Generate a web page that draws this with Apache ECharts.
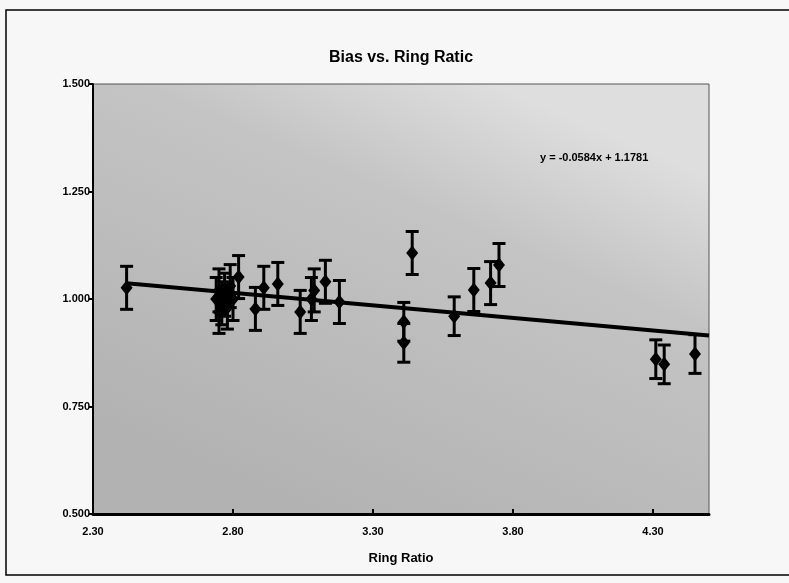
<!DOCTYPE html>
<html>
<head>
<meta charset="utf-8">
<script src="https://cdn.jsdelivr.net/npm/echarts@6/dist/echarts.min.js"></script>
<style>
  html, body { margin: 0; padding: 0; background: #f7f7f7; }
  #main { width: 789px; height: 583px; }
</style>
</head>
<body>
<div id="main"></div>
<script>
// ring ratio (x), bias (y), error half-width
var ringRatio = [2.42, 2.74, 2.75, 2.75, 2.76, 2.77, 2.78, 2.79, 2.80, 2.82, 2.88, 2.91, 2.96,
                 3.04, 3.08, 3.09, 3.13, 3.18, 3.41, 3.41, 3.44, 3.59, 3.66, 3.72, 3.75,
                 4.31, 4.34, 4.45];
var bias = [1.026, 1.00, 0.97, 1.02, 0.99, 1.01, 0.98, 1.03, 1.00, 1.051, 0.977, 1.026, 1.035,
            0.970, 1.000, 1.020, 1.040, 0.993, 0.947, 0.898, 1.107, 0.960, 1.021, 1.037, 1.079,
            0.860, 0.848, 0.872];
var errBar = [0.05, 0.05, 0.05, 0.05, 0.05, 0.05, 0.05, 0.05, 0.05, 0.05, 0.05, 0.05, 0.05,
              0.05, 0.05, 0.05, 0.05, 0.05, 0.045, 0.045, 0.05, 0.045, 0.05, 0.05, 0.05,
              0.045, 0.045, 0.045];
var xTicks = [2.30, 2.80, 3.30, 3.80, 4.30];
var trendSlope = -0.0584, trendIntercept = 1.1781;
var trendRange = [2.42, 4.50];

var chart = echarts.init(document.getElementById('main'));

var points = [], bars = [];
for (var i = 0; i < ringRatio.length; i++) {
    points.push([ringRatio[i], bias[i]]);
    bars.push([ringRatio[i], bias[i] - errBar[i], bias[i] + errBar[i]]);
}
var trend = trendRange.map(function (x) { return [x, trendSlope * x + trendIntercept]; });

var option = {
    backgroundColor: '#f7f7f7',
    animation: false,
    textStyle: { fontFamily: 'Liberation Sans', color: '#000' },
    title: {
        text: 'Bias vs. Ring Ratic',
        left: 396, top: 45, textAlign: 'center',
        textStyle: { fontSize: 16, fontWeight: 'bold', color: '#000' }
    },
    grid: {
        left: 93, right: 80, top: 84, bottom: 69,
        show: true,
        backgroundColor: new echarts.graphic.LinearGradient(0.65, 0, 0.35, 1, [
            { offset: 0, color: '#dedede' },
            { offset: 0.3, color: '#c4c4c4' },
            { offset: 1, color: '#b2b2b2' }
        ]),
        borderColor: '#555', borderWidth: 1
    },
    xAxis: {
        type: 'value', min: 2.3, max: 4.5,
        name: 'Ring Ratio', nameLocation: 'middle', nameGap: 38,
        nameTextStyle: { fontSize: 13, fontWeight: 'bold', color: '#000' },
        axisLine: { lineStyle: { color: '#000', width: 3 } },
        axisTick: { customValues: xTicks, inside: true, length: 5, lineStyle: { color: '#000', width: 2 } },
        axisLabel: { customValues: xTicks, fontSize: 11, margin: 12, color: '#000', fontWeight: 'bold',
            formatter: function (v) { return v.toFixed(2); } },
        splitLine: { show: false }
    },
    yAxis: {
        type: 'value', min: 0.5, max: 1.5, interval: 0.25,
        axisLine: { show: true, lineStyle: { color: '#000', width: 2 } },
        axisTick: { show: true, length: 4, lineStyle: { color: '#000', width: 2 } },
        axisLabel: { fontSize: 11, margin: 3, color: '#000', fontWeight: 'bold',
            formatter: function (v) { return v.toFixed(3); } },
        splitLine: { show: false }
    },
    graphic: [
        { type: 'rect', shape: { x: 6, y: 10, width: 800, height: 565 },
          style: { fill: 'none', stroke: '#000', lineWidth: 1.5 }, silent: true },
        { type: 'text', left: 540, top: 152,
          style: { text: 'y = -0.0584x + 1.1781', fontSize: 11, fontWeight: 'bold',
                   fontFamily: 'Liberation Sans', fill: '#000' } }
    ],
    series: [
        {
            type: 'line', data: trend, symbol: 'none', z: 2,
            lineStyle: { color: '#000', width: 4 }
        },
        {
            type: 'custom', data: bars, z: 3,
            renderItem: function (params, api) {
                var lo = api.coord([api.value(0), api.value(1)]);
                var hi = api.coord([api.value(0), api.value(2)]);
                var w = 6.5;
                var st = { stroke: '#000', lineWidth: 3 };
                return {
                    type: 'group',
                    children: [
                        { type: 'line', shape: { x1: lo[0], y1: lo[1], x2: hi[0], y2: hi[1] }, style: st },
                        { type: 'line', shape: { x1: lo[0] - w, y1: lo[1], x2: lo[0] + w, y2: lo[1] }, style: st },
                        { type: 'line', shape: { x1: hi[0] - w, y1: hi[1], x2: hi[0] + w, y2: hi[1] }, style: st }
                    ]
                };
            }
        },
        {
            type: 'scatter', data: points, z: 4,
            symbol: 'diamond', symbolSize: [12, 15],
            itemStyle: { color: '#000', opacity: 1 }
        }
    ]
};
chart.setOption(option);
</script>
</body>
</html>
